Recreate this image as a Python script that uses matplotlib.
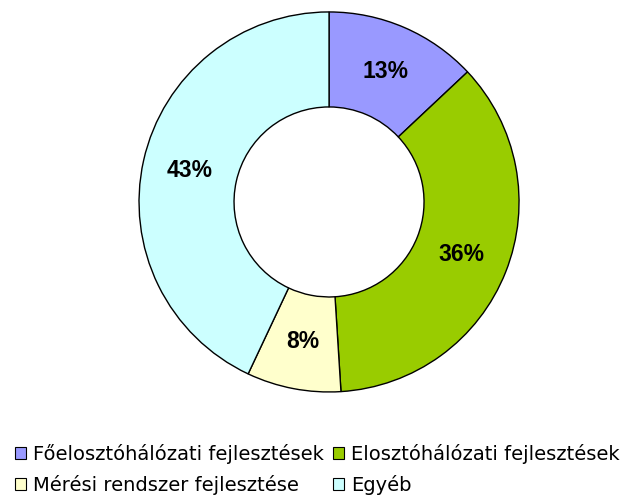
import matplotlib.pyplot as plt
import matplotlib.patches as mpatch

# adatok
labels = ['Főelosztóhálózati fejlesztések', 'Elosztóhálózati fejlesztések',
          'Mérési rendszer fejlesztése', 'Egyéb']
values = [13, 36, 8, 43]
colors = ['#9999FF', '#99CC00', '#FFFFCC', '#CCFFFF']

plt.rcParams['font.family'] = ['Liberation Sans', 'DejaVu Sans']

fig = plt.figure(figsize=(6.24, 4.95), dpi=100)
ax = fig.add_axes([0.2228, 0.208, 0.609, 0.768])

wedges, texts, autotexts = ax.pie(
    values, colors=colors, startangle=90, counterclock=False,
    radius=1.0, autopct='%d%%', pctdistance=0.75,
    wedgeprops=dict(width=0.5, edgecolor='black', linewidth=1.0),
    textprops=dict(fontsize=16.5, fontweight='bold', color='black'))
ax.set_xlim(-1, 1)
ax.set_ylim(-1, 1)
ax.set_aspect('equal')
ax.axis('off')

# a legenda soronként töltődik: sorrend átrendezése oszlopokhoz
order = [0, 2, 1, 3]
handles = [mpatch.Patch(facecolor=colors[i], edgecolor='black', linewidth=0.8,
                        label=labels[i]) for i in order]
fig.legend(handles=handles, ncol=2, frameon=False, loc='upper left',
           bbox_to_anchor=(0.012, 0.119),
           prop={'family': 'DejaVu Sans', 'size': 14},
           handlelength=0.55, handleheight=0.55, handletextpad=0.35,
           columnspacing=0.5, labelspacing=0.58, borderaxespad=0)

plt.savefig('out.png', dpi=100)
